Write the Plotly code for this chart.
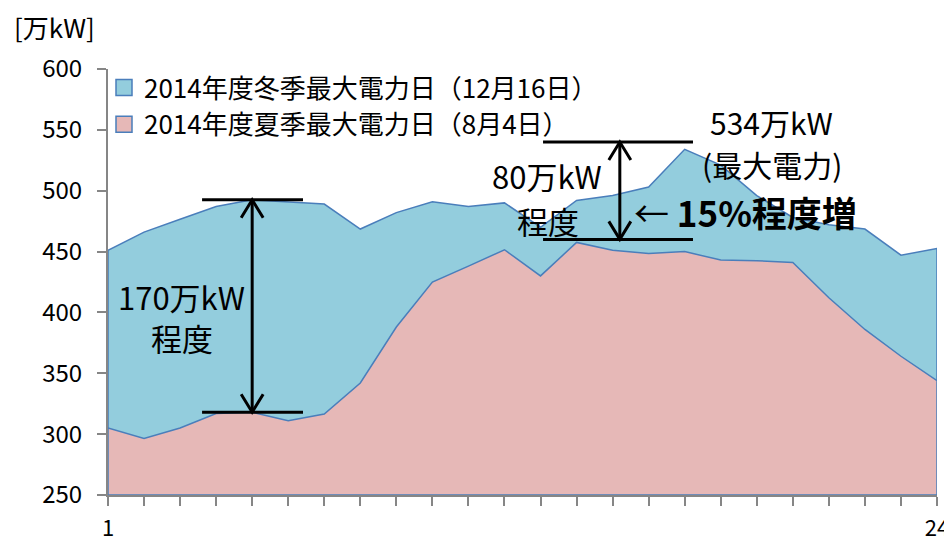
import plotly.graph_objects as go

# ---- data ----
hours = list(range(1, 25))
winter = [451, 466, 476.5, 487, 492.5, 491, 489, 468.5, 482, 491, 487, 490,
          470, 492, 496, 503, 534, 521, 496, 478, 472, 468.5, 447, 452.5]
summer = [305, 296.5, 305, 317, 318, 311, 316.5, 342, 388, 425, 438, 451.5,
          430, 457.5, 451, 448.5, 450, 443, 442.5, 441, 412, 386, 364, 344]
series_names = ["2014年度冬季最大電力日（12月16日）", "2014年度夏季最大電力日（8月4日）"]
y_ticks = [250, 300, 350, 400, 450, 500, 550, 600]
x_ticktext = ["1"] + [""] * 22 + ["24"]

YMIN, YMAX = 250, 600
FONT = "Noto Sans CJK JP"
OUTLINE = "#4A7EBB"
FILLS = ["#93CDDD", "#E6B8B7"]

# page geometry (browser body adds an 8px offset)
W, H = 944, 533
ML, MR, MT, MB = 100, 15, 61, 46
PL, PT = 8 + ML, 8 + MT                 # plot-area left/top in page pixels
PW, PH = W - ML - MR, H - MT - MB       # plot-area size


def px2paper_x(px):
    return (px - PL) / PW


def px2paper_y(py):
    return (PT + PH - py) / PH


def area(xs, ys, name, color):
    px = list(xs) + [xs[-1], xs[0], xs[0]]
    py = list(ys) + [YMIN, YMIN, ys[0]]
    return go.Scatter(x=px, y=py, mode="lines", fill="toself", fillcolor=color,
                      line=dict(color=OUTLINE, width=1.5), name=name,
                      showlegend=False, hoverinfo="skip")


fig = go.Figure()
fig.add_trace(area(hours, winter, series_names[0], FILLS[0]))
fig.add_trace(area(hours, summer, series_names[1], FILLS[1]))
for name, col in zip(series_names, FILLS):
    fig.add_trace(go.Scatter(x=[None], y=[None], mode="markers", name=name,
                             marker=dict(symbol="square", size=16, color=col,
                                         line=dict(color=OUTLINE, width=1.5))))

shapes = []
annotations = []


def hline(x0, x1, y):
    shapes.append(dict(type="line", xref="x", yref="y", x0=x0, x1=x1, y0=y, y1=y,
                       line=dict(color="black", width=3)))


def double_arrow(x, ylo, yhi):
    shapes.append(dict(type="line", xref="x", yref="y", x0=x, x1=x, y0=ylo, y1=yhi,
                       line=dict(color="black", width=3)))
    for yv, sgn in ((yhi, -1), (ylo, 1)):
        shapes.append(dict(type="path", xref="x", yref="y", xsizemode="pixel",
                           ysizemode="pixel", xanchor=x, yanchor=yv,
                           path=f"M -11,{sgn*18} L 0,0 L 11,{sgn*18}",
                           line=dict(color="black", width=3)))


# 170万kW group (hour 5)
i5 = hours.index(5)
hline(3.61, 6.41, winter[i5])
hline(3.61, 6.41, summer[i5])
double_arrow(5, summer[i5], winter[i5])

# 80万kW group
hline(13.07, 17.23, 540)
hline(13.07, 17.23, 460)
double_arrow(15.2, 460, 540)


def text(x, y, s, size, xanchor="center"):
    annotations.append(dict(x=x, y=y, xref="x", yref="y", text=s, showarrow=False,
                            xanchor=xanchor, yanchor="middle",
                            font=dict(family=FONT, size=size, color="black")))


text(3.05, 413.5, "170万kW", 31)
text(3.05, 379.8, "程度", 31)
text(13.18, 512.1, "80万kW", 31)
text(13.21, 475.9, "程度", 31)
text(15.55, 482.7, "← <b>15%程度増</b>", 35, xanchor="left")
text(19.42, 556.5, "534万kW", 30)
text(19.42, 522.0, "(最大電力)", 30)

annotations.append(dict(x=px2paper_x(54), y=px2paper_y(27), xref="paper", yref="paper",
                        xanchor="center", yanchor="middle", showarrow=False,
                        text="[万kW]", font=dict(family=FONT, size=26, color="black")))

fig.update_layout(
    width=W, height=H,
    margin=dict(l=ML, r=MR, t=MT, b=MB, autoexpand=False),
    paper_bgcolor="white", plot_bgcolor="white",
    font=dict(family=FONT, size=22, color="black"),
    showlegend=True,
    legend=dict(x=px2paper_x(104), y=px2paper_y(64), xanchor="left", yanchor="top",
                bgcolor="rgba(0,0,0,0)", font=dict(size=26, family=FONT),
                tracegroupgap=0, itemwidth=30, traceorder="normal"),
    shapes=shapes,
    annotations=annotations,
    xaxis=dict(range=[1, 24], tickmode="array", tickvals=hours, ticktext=x_ticktext,
               showgrid=False, zeroline=False, showline=True, linecolor="#868686",
               linewidth=2, ticks="outside", ticklen=9, tickcolor="#868686",
               tickwidth=1.5, tickfont=dict(size=22), ticklabelstandoff=4,
               automargin=False),
    yaxis=dict(range=[YMIN, YMAX], tickmode="array", tickvals=y_ticks,
               showgrid=False, zeroline=False, showline=True, linecolor="#868686",
               linewidth=2, ticks="outside", ticklen=9, tickcolor="#868686",
               tickwidth=2, tickfont=dict(size=24), ticklabelstandoff=10,
               automargin=False),
)

fig.write_html("out.html")
